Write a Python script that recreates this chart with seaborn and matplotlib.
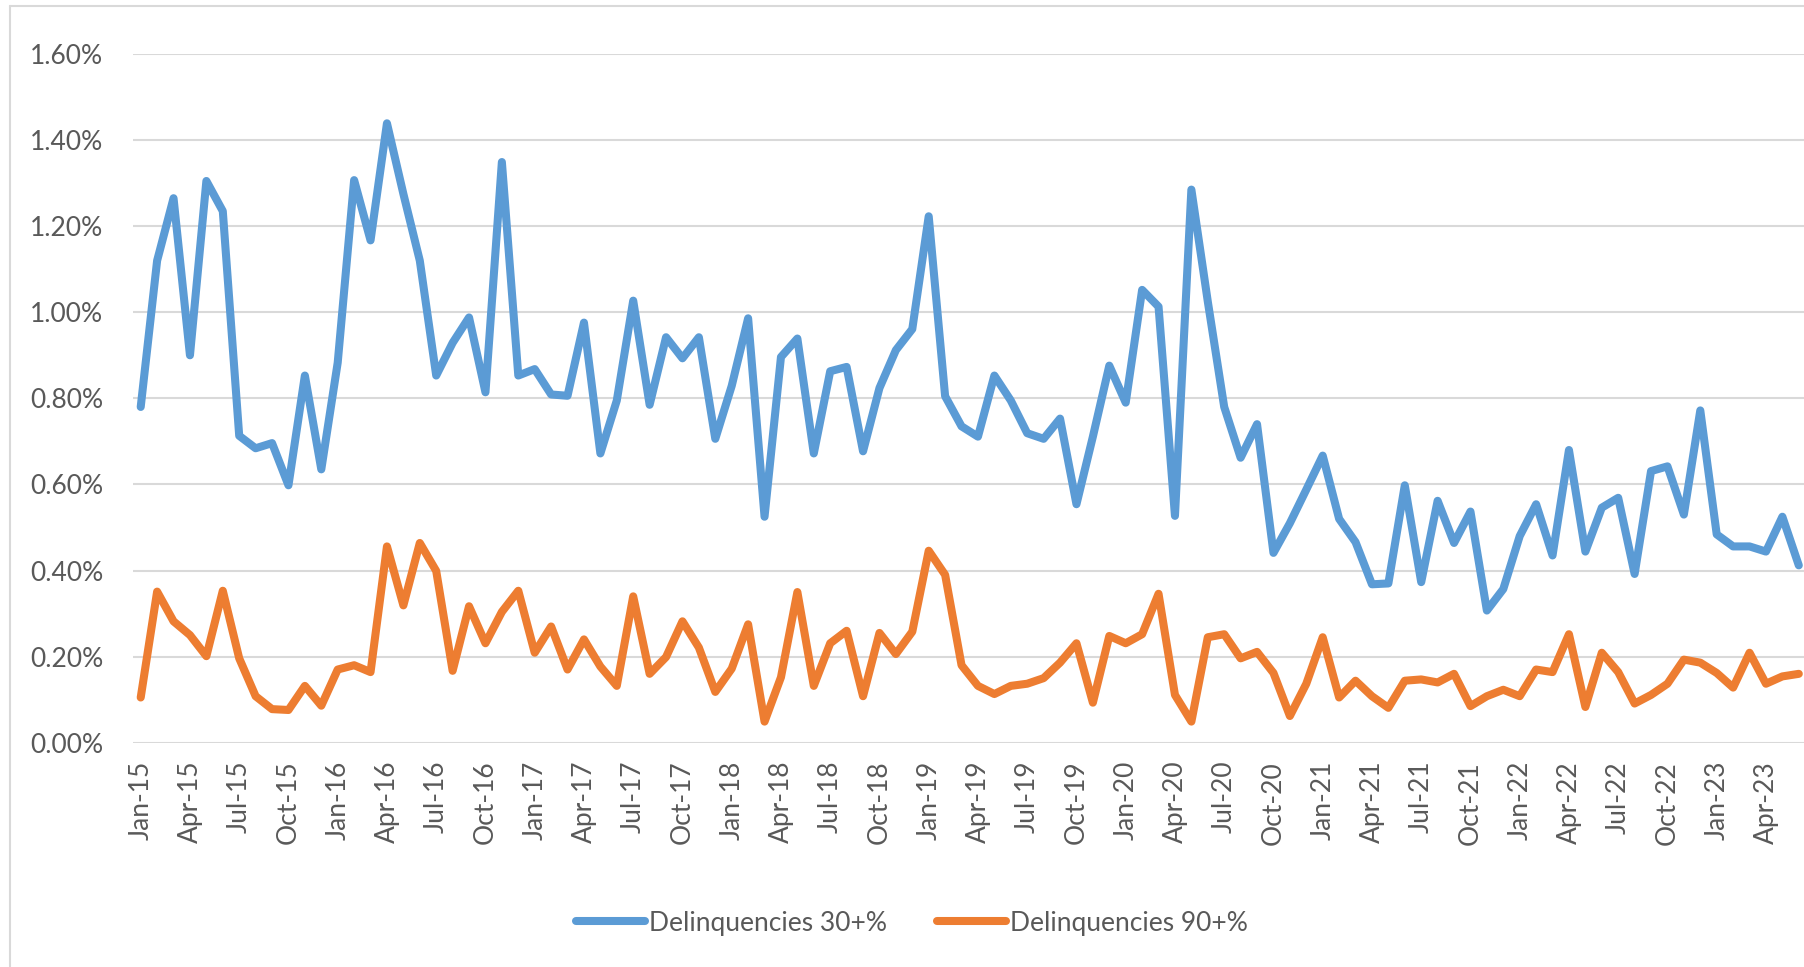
import numpy as np
import pandas as pd
import matplotlib
matplotlib.use("Agg")
import matplotlib.pyplot as plt
from matplotlib.lines import Line2D
import seaborn as sns

# ---------------- data ----------------
months = list(pd.date_range("2015-01-01", periods=102, freq="MS").strftime("%b-%y"))

delinq_30 = [
    0.78, 1.12, 1.265, 0.90, 1.305, 1.235, 0.713, 0.684, 0.696, 0.598, 0.853, 0.635,
    0.883, 1.307, 1.167, 1.439, 1.275, 1.12, 0.853, 0.929, 0.988, 0.814, 1.349, 0.853,
    0.868, 0.809, 0.806, 0.976, 0.672, 0.795, 1.027, 0.785, 0.942, 0.893, 0.942, 0.706,
    0.829, 0.986, 0.525, 0.896, 0.939, 0.672, 0.863, 0.873, 0.677, 0.824, 0.912, 0.961,
    1.223, 0.805, 0.735, 0.711, 0.853, 0.795, 0.719, 0.706, 0.753, 0.554, 0.711, 0.876,
    0.790, 1.052, 1.013, 0.527, 1.285, 1.025, 0.780, 0.662, 0.740, 0.441, 0.510, 0.588,
    0.667, 0.520, 0.466, 0.368, 0.370, 0.598, 0.373, 0.562, 0.464, 0.537, 0.307, 0.357,
    0.480, 0.554, 0.435, 0.680, 0.444, 0.546, 0.569, 0.392, 0.631, 0.642, 0.530, 0.772,
    0.484, 0.456, 0.456, 0.444, 0.525, 0.412,
]

delinq_90 = [
    0.105, 0.351, 0.282, 0.250, 0.201, 0.353, 0.196, 0.108, 0.078, 0.076, 0.132, 0.086,
    0.170, 0.180, 0.164, 0.456, 0.319, 0.464, 0.399, 0.167, 0.317, 0.231, 0.304, 0.353,
    0.209, 0.270, 0.170, 0.240, 0.177, 0.132, 0.340, 0.160, 0.199, 0.282, 0.221, 0.118,
    0.172, 0.275, 0.049, 0.152, 0.350, 0.132, 0.231, 0.260, 0.108, 0.255, 0.206, 0.258,
    0.446, 0.390, 0.180, 0.132, 0.113, 0.132, 0.137, 0.150, 0.186, 0.231, 0.093, 0.248,
    0.231, 0.252, 0.346, 0.111, 0.049, 0.245, 0.252, 0.196, 0.211, 0.162, 0.062, 0.137,
    0.245, 0.105, 0.144, 0.108, 0.081, 0.144, 0.147, 0.140, 0.160, 0.085, 0.108, 0.123,
    0.108, 0.170, 0.164, 0.252, 0.083, 0.209, 0.164, 0.091, 0.111, 0.137, 0.193, 0.186,
    0.162, 0.128, 0.209, 0.137, 0.154, 0.160,
]

series_names = ["Delinquencies 30+%", "Delinquencies 90+%"]
y_ticks = [0.0, 0.2, 0.4, 0.6, 0.8, 1.0, 1.2, 1.4, 1.6]

# ---------------- styling ----------------
sns.set_theme(style="white")
plt.rcParams["font.family"] = ["Lato", "DejaVu Sans"]

BLUE = "#5B9BD5"
ORANGE = "#ED7D31"
GRID = "#D9D9D9"
TEXT = "#595959"
LW = 5.8

W, H = 1804, 967
fig = plt.figure(figsize=(W / 100, H / 100), dpi=100)
ax = fig.add_axes([132.5 / W, (H - 742.7) / H, 1674.5 / W, (742.7 - 54) / H])

idx = np.arange(len(months))
df = pd.DataFrame({
    "idx": np.concatenate([idx, idx]),
    "value": delinq_30 + delinq_90,
    "series": [series_names[0]] * len(idx) + [series_names[1]] * len(idx),
})

sns.lineplot(
    data=df, x="idx", y="value", hue="series",
    palette={series_names[0]: BLUE, series_names[1]: ORANGE},
    linewidth=LW, ax=ax, legend=False, sort=False,
    solid_joinstyle="round", solid_capstyle="round",
)

ax.set_xlim(-0.5, 101.5)
ax.set_ylim(0, 1.6)
ax.set_yticks(y_ticks)
ax.set_yticklabels([f"{v:.2f}%" for v in y_ticks])
ax.set_xticks(idx[::3])
ax.set_xticklabels(months[::3], rotation=90)
ax.set_xlabel("")
ax.set_ylabel("")

ax.yaxis.grid(True, color=GRID, linewidth=1.5)
ax.xaxis.grid(False)
ax.set_axisbelow(True)
for s in ax.spines.values():
    s.set_visible(False)

ax.tick_params(axis="y", length=0, pad=21, labelsize=19, labelcolor=TEXT)
ax.tick_params(axis="x", length=0, pad=13, labelsize=19, labelcolor=TEXT)

# legend
handles = [
    Line2D([0], [0], color=BLUE, lw=LW, solid_capstyle="round"),
    Line2D([0], [0], color=ORANGE, lw=LW, solid_capstyle="round"),
]
leg = fig.legend(
    handles, series_names, loc="center", bbox_to_anchor=(912 / W, 1 - 923 / H),
    ncol=2, frameon=False, fontsize=19, handlelength=2.6, handletextpad=0.15,
    columnspacing=1.9, labelcolor=TEXT,
)

# chart-area border (top and left visible)
fig.add_artist(Line2D([10 / W, 1.0], [1 - 6 / H, 1 - 6 / H], color=GRID, lw=1.5,
                      transform=fig.transFigure))
fig.add_artist(Line2D([10 / W, 10 / W], [0, 1 - 6 / H], color=GRID, lw=1.5,
                      transform=fig.transFigure))

fig.savefig("out.png", dpi=100)
